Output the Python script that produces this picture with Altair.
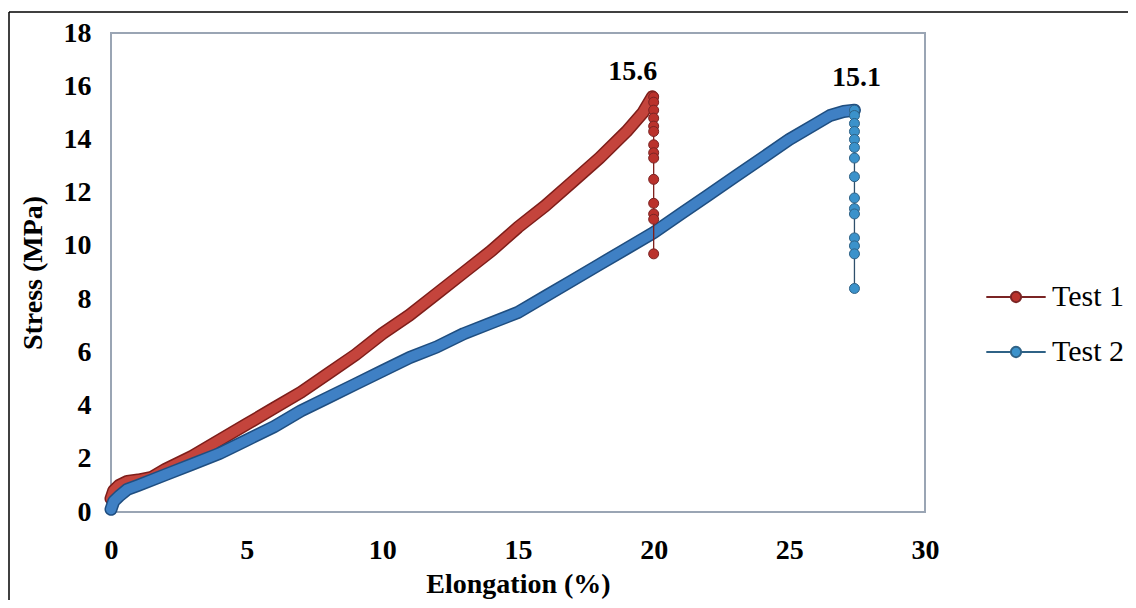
import altair as alt
import pandas as pd

# ---- data ----
t1_x = [0, 0.1, 0.3, 0.6, 1.0, 1.5, 2, 3, 4, 5, 6, 7, 8, 9, 10, 11, 12, 13, 14, 15, 16, 17, 18, 19, 19.6, 19.95]
t1_y = [0.5, 0.8, 1.0, 1.15, 1.2, 1.3, 1.6, 2.1, 2.7, 3.3, 3.9, 4.5, 5.2, 5.9, 6.7, 7.4, 8.2, 9.0, 9.8, 10.7, 11.5, 12.4, 13.3, 14.3, 15.0, 15.6]
t1_drop_x = 20.0
t1_drop_y = [15.6, 15.4, 15.1, 14.8, 14.5, 14.3, 13.8, 13.5, 13.3, 12.5, 11.6, 11.2, 11.0, 9.7]

t2_x = [0, 0.1, 0.3, 0.6, 1, 2, 3, 4, 5, 6, 7, 8, 9, 10, 11, 12, 13, 14, 15, 16, 17, 18, 19, 20, 21, 22, 23, 24, 25, 26, 26.5, 27, 27.4]
t2_y = [0.1, 0.4, 0.6, 0.85, 1.0, 1.4, 1.8, 2.2, 2.7, 3.2, 3.8, 4.3, 4.8, 5.3, 5.8, 6.2, 6.7, 7.1, 7.5, 8.1, 8.7, 9.3, 9.9, 10.5, 11.2, 11.9, 12.6, 13.3, 14.0, 14.6, 14.9, 15.05, 15.1]
t2_drop_x = 27.4
t2_drop_y = [15.1, 14.9, 14.6, 14.3, 14.0, 13.7, 13.3, 12.6, 11.8, 11.4, 11.2, 10.3, 10.0, 9.7, 8.4]

series = ["Test 1", "Test 2"]
peak_labels = ["15.6", "15.1"]
x_ticks = [0, 5, 10, 15, 20, 25, 30]
y_ticks = [0, 2, 4, 6, 8, 10, 12, 14, 16, 18]

# ---- tables ----
t1 = pd.DataFrame({"elong": t1_x, "stress": t1_y, "series": series[0]})
t2 = pd.DataFrame({"elong": t2_x, "stress": t2_y, "series": series[1]})
drops = pd.concat([
    pd.DataFrame({"elong": [t1_drop_x] * len(t1_drop_y), "stress": t1_drop_y, "series": series[0]}),
    pd.DataFrame({"elong": [t2_drop_x] * len(t2_drop_y), "stress": t2_drop_y, "series": series[1]}),
], ignore_index=True)
pk1 = pd.DataFrame({"elong": [t1_drop_x], "stress": [t1_drop_y[0]], "label": [peak_labels[0]]})
pk2 = pd.DataFrame({"elong": [t2_drop_x], "stress": [t2_drop_y[0]], "label": [peak_labels[1]]})
one = pd.DataFrame({"k": [0]})

SERIF = "Liberation Serif"
RED, RED_DARK = "#C4443C", "#7E1E1A"
BLUE, BLUE_DARK = "#3F80C4", "#1F4E80"

x_enc = alt.X("elong:Q", scale=alt.Scale(domain=[0, 30], nice=False, zero=False),
              axis=alt.Axis(values=x_ticks, title="Elongation (%)", labelPadding=24,
                            titlePadding=6, labelFlush=False))
y_enc = alt.Y("stress:Q", scale=alt.Scale(domain=[0, 18], nice=False),
              axis=alt.Axis(values=y_ticks, title="Stress (MPa)", labelPadding=20,
                            titlePadding=16, labelFlush=False))


def band(df, dark, light):
    base = alt.Chart(df).encode(x=x_enc, y=y_enc)
    outer = base.mark_line(color=dark, strokeWidth=13, strokeCap="round", strokeJoin="round")
    inner = base.mark_line(color=light, strokeWidth=10, strokeCap="round", strokeJoin="round")
    return outer + inner


drop_line1 = alt.Chart(drops).transform_filter(alt.datum.series == series[0]).mark_line(
    strokeWidth=1.3, color=RED_DARK).encode(x=x_enc, y=y_enc)
drop_line2 = alt.Chart(drops).transform_filter(alt.datum.series == series[1]).mark_line(
    strokeWidth=1.3, color="#2E4F6B").encode(x=x_enc, y=y_enc)

LEG_PATH = ("M-1.1,0H-0.19M0.19,0H1.1"
            "M-0.19,0A0.19,0.19,0,1,1,0.19,0A0.19,0.19,0,1,1,-0.19,0Z")


def leg():
    return alt.Legend(
        title=None, orient="none", legendX=877, legendY=236,
        symbolType=LEG_PATH, symbolSize=2916, symbolStrokeWidth=2,
        symbolOpacity=1, labelFont=SERIF, labelFontSize=30,
        labelColor="black", labelOffset=8, rowPadding=12, padding=0,
    )


drop_dots = alt.Chart(drops).mark_point(filled=True, size=100, opacity=1, strokeWidth=1).encode(
    x=x_enc, y=y_enc,
    fill=alt.Fill("series:N", scale=alt.Scale(domain=series, range=["#BA322C", "#3B92CB"]),
                  legend=leg()),
    stroke=alt.Stroke("series:N", scale=alt.Scale(domain=series, range=["#7A2424", "#2F6286"]),
                      legend=leg()),
)

lab1 = alt.Chart(pk1).mark_text(font=SERIF, fontWeight="bold", fontSize=28, color="black",
                                dx=-21, dy=-25).encode(x=x_enc, y=y_enc, text="label:N")
lab2 = alt.Chart(pk2).mark_text(font=SERIF, fontWeight="bold", fontSize=28, color="black",
                                dx=2, dy=-32).encode(x=x_enc, y=y_enc, text="label:N")

border_left = alt.Chart(one).mark_rule(color="black", strokeWidth=1.5).encode(
    x=alt.value(-102), y=alt.value(-21), y2=alt.value(600))
border_top = alt.Chart(one).mark_rule(color="black", strokeWidth=1.5).encode(
    x=alt.value(-102), x2=alt.value(1100), y=alt.value(-21))

chart = alt.layer(
    band(t1, RED_DARK, RED),
    band(t2, BLUE_DARK, BLUE),
    drop_line1, drop_line2, drop_dots, lab1, lab2, border_left, border_top,
).properties(
    width=814, height=479,
    autosize=alt.AutoSizeParams(type="none"),
    padding={"left": 103, "top": 25, "right": 203, "bottom": 88},
    background="white",
).configure_view(
    stroke="#9AA5B4", strokeWidth=2,
).configure_axis(
    labelFont=SERIF, labelFontSize=28, labelFontWeight="bold", labelColor="black",
    titleFont=SERIF, titleFontSize=28, titleFontWeight="bold", titleColor="black",
    ticks=False, domain=False, grid=False,
)

chart.save("out.html", embed_options={"renderer": "svg", "actions": False})
